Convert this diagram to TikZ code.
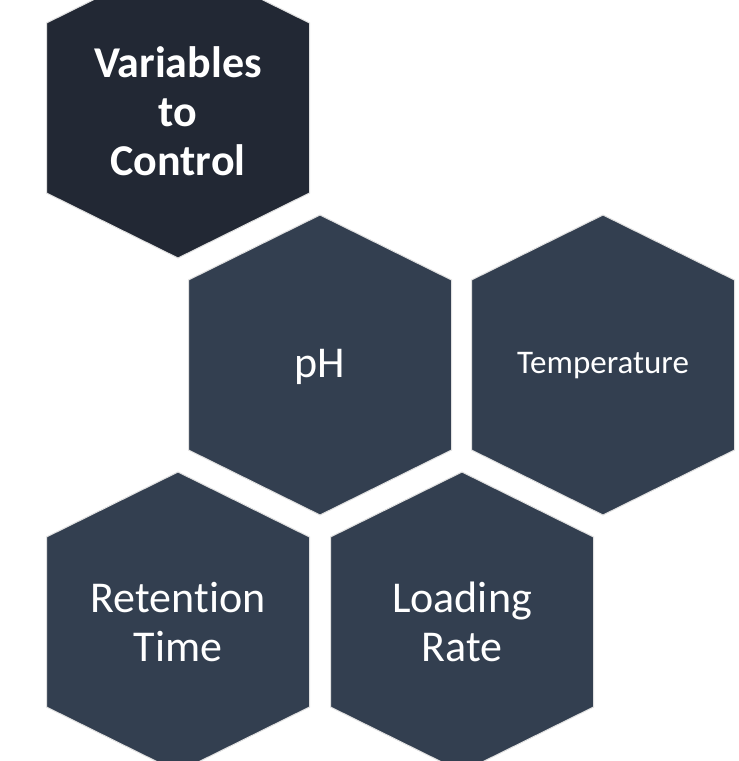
\documentclass[tikz,border=0pt]{standalone}
\usepackage{fontspec}
\setmainfont{Carlito}[Ligatures={NoCommon,NoContextual}]
\definecolor{hexdark}{RGB}{34,40,52}
\definecolor{hexmid}{RGB}{51,63,80}
\definecolor{hexedge}{RGB}{225,225,225}
\tikzset{
  hexpath/.style={draw=hexedge, line width=1pt, line join=miter},
  hextext/.style={text=white, align=center, inner sep=0pt},
  bigtext/.style={hextext, font=\fontsize{44}{49}\selectfont},
  smalltext/.style={hextext, font=\fontsize{33}{38}\selectfont}
}
\newcommand{\hexagonat}[2]{%
  \path[hexpath, fill=#2] (#1) ++(0,-150) -- ++(131.5,65) -- ++(0,170) -- ++(-131.5,65) -- ++(-131.5,-65) -- ++(0,-170) -- cycle;}
\begin{document}
\begin{tikzpicture}[x=1pt,y=-1pt]
\useasboundingbox (0,0) rectangle (739,761);
\clip (0,0) rectangle (739,761);
\fill[white] (0,0) rectangle (739,761);
\coordinate (cTop) at (178,108);
\coordinate (cPH) at (320,365);
\coordinate (cTemp) at (603,365);
\coordinate (cRet) at (178,622);
\coordinate (cLoad) at (462,622);
\hexagonat{cTop}{hexdark}
\hexagonat{cPH}{hexmid}
\hexagonat{cTemp}{hexmid}
\hexagonat{cRet}{hexmid}
\hexagonat{cLoad}{hexmid}
\node[bigtext] (vtc) at (178,111) {\bfseries Variables\\\bfseries to\\\bfseries Control};
\node[bigtext] (ph) at (320,367) {pH};
\node[smalltext] (temp) at (603,366) {Temperature};
\node[bigtext] (ret) at (178,622) {Retention\\Time};
\node[bigtext] (load) at (462,622) {Loading\\Rate};
\end{tikzpicture}
\end{document}
